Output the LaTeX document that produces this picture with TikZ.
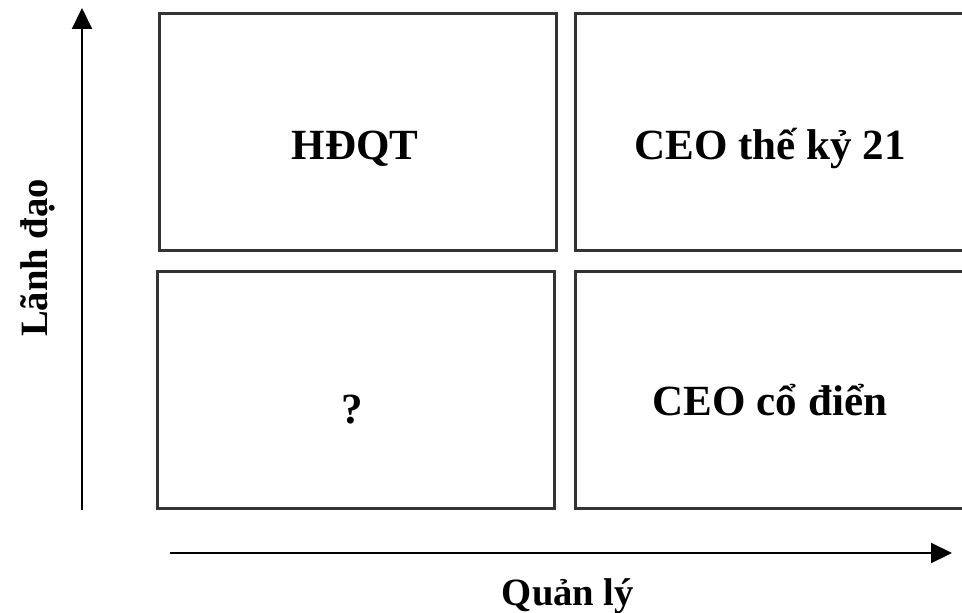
\documentclass[tikz,border=0pt]{standalone}
\usepackage{fontspec}
\setmainfont{Liberation Serif}
\usetikzlibrary{arrows.meta}
\begin{document}
\begin{tikzpicture}[x=0.02cm, y=-0.02cm,
  cell/.style={draw=black!80, line width=1.6pt, minimum width=7.94cm, minimum height=4.74cm, inner sep=0pt, anchor=north west},
  lbl/.style={font=\fontsize{22}{27}\selectfont\bfseries, anchor=base, inner sep=0pt},
  big/.style={lbl, font=\fontsize{24.5}{29}\selectfont\bfseries},
  axis/.style={line width=1.2pt, -{Triangle[length=0.42cm, width=0.4cm]}}]
\useasboundingbox (0,0) rectangle (962,612);
\clip (0,0) rectangle (962,612);
% the four cells
\node[cell] (hdqt) at (158,12) {};
\node[cell] (ceo21) at (574,12) {};
\node[cell] (unknown) at (156,270) {};
\node[cell] (classic) at (574,270) {};
\node[big] (t-hdqt) at (355,159) {HĐQT};
\node[big] (t-ceo21) at (770,159) {CEO thế kỷ 21};
\node[big] (t-unknown) at (352,423) {?};
\node[big] (t-classic) at (770,415) {CEO cổ điển};
% axes
\coordinate (yfrom) at (82,510);
\coordinate (yto) at (82,8);
\coordinate (xfrom) at (170,553);
\coordinate (xto) at (952,553);
\draw[axis] (yfrom) -- (yto);
\draw[axis] (xfrom) -- (xto);
\node[lbl, rotate=90] (lead) at (47,258) {Lãnh đạo};
\node[lbl] (manage) at (568,605) {Quản lý};
\end{tikzpicture}
\end{document}
